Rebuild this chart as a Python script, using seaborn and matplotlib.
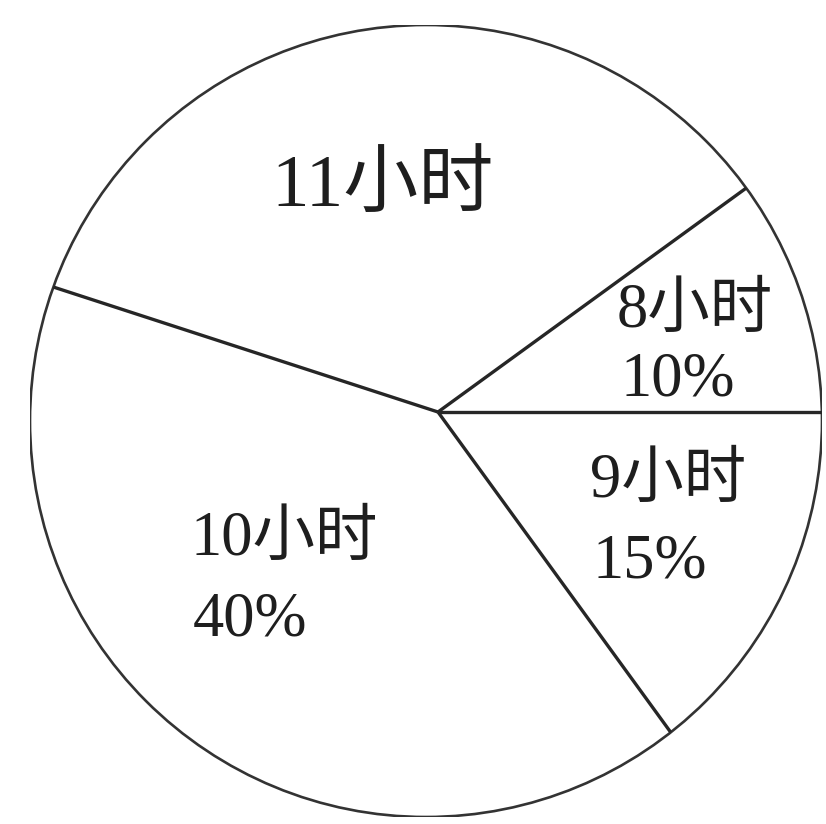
import matplotlib
matplotlib.use("Agg")
import numpy as np
import matplotlib.pyplot as plt
from matplotlib.patches import Circle
import seaborn as sns

sns.set_theme(style="white")
plt.rcParams["font.family"] = ["Liberation Serif", "Noto Sans CJK SC", "DejaVu Sans"]

# Sleep duration shares, in drawing order (counter-clockwise from 3 o'clock)
categories = ["8小时", "11小时", "10小时", "9小时"]
shares = [10, 35, 40, 15]
show_percent = [True, False, True, True]

W, H = 826, 824
fig = plt.figure(figsize=(W / 100, H / 100), dpi=100)
fig.patch.set_facecolor("white")

# circle centre and radius in pixels
cx, cy, r = 426, 421, 396
ax = fig.add_axes([(cx - r) / W, (H - cy - r) / H, 2 * r / W, 2 * r / H])

# white wedges; outline and spokes are drawn separately
ax.pie(
    shares,
    startangle=0,
    counterclock=True,
    colors=["white"] * len(shares),
    radius=1.0,
    wedgeprops=dict(linewidth=0),
    frame=False,
)
ax.set_xlim(-1, 1)
ax.set_ylim(-1, 1)
ax.set_aspect("auto")
ax.axis("off")

ax.add_patch(Circle((0, 0), 1.0, fill=False, edgecolor="#333333", linewidth=1.9, zorder=3))

# spokes meet at a hub slightly off the circle centre
hub = np.array([(438 - cx) / r, (cy - 412) / r])
bounds = np.deg2rad(np.cumsum([0] + shares[:-1]) / sum(shares) * 360.0)
for th in bounds:
    d = np.array([np.cos(th), np.sin(th)])
    pd = hub @ d
    t = -pd + np.sqrt(pd ** 2 - (hub @ hub - 1.0))
    end = hub + t * d
    ax.plot([hub[0], end[0]], [hub[1], end[1]], color="#262626", linewidth=2.4,
            solid_capstyle="butt", zorder=3)


def to_data(px, py):
    return (px - cx) / r, (cy - py) / r


txt_color = "#1e1e1e"
# label anchor points (left edge, centre of first line, line gap) in pixels
anchors = {
    "8小时": (617, 312, 68),
    "11小时": (382, 188, 0),
    "10小时": (190, 540, 80),
    "9小时": (590, 482, 80),
}

for cat, val, pct in zip(categories, shares, show_percent):
    px, py, gap = anchors[cat]
    x, y = to_data(px, py)
    if cat == "11小时":
        ax.text(x, y, cat, ha="center", va="center", fontsize=54, color=txt_color, zorder=4)
        continue
    ax.text(x, y, cat, ha="left", va="center", fontsize=45, color=txt_color, zorder=4)
    if pct:
        x2, y2 = to_data(px + 3, py + gap)
        ax.text(x2, y2, f"{val}%", ha="left", va="center", fontsize=45,
                color=txt_color, zorder=4)

fig.savefig("out.png", dpi=100, facecolor="white")
